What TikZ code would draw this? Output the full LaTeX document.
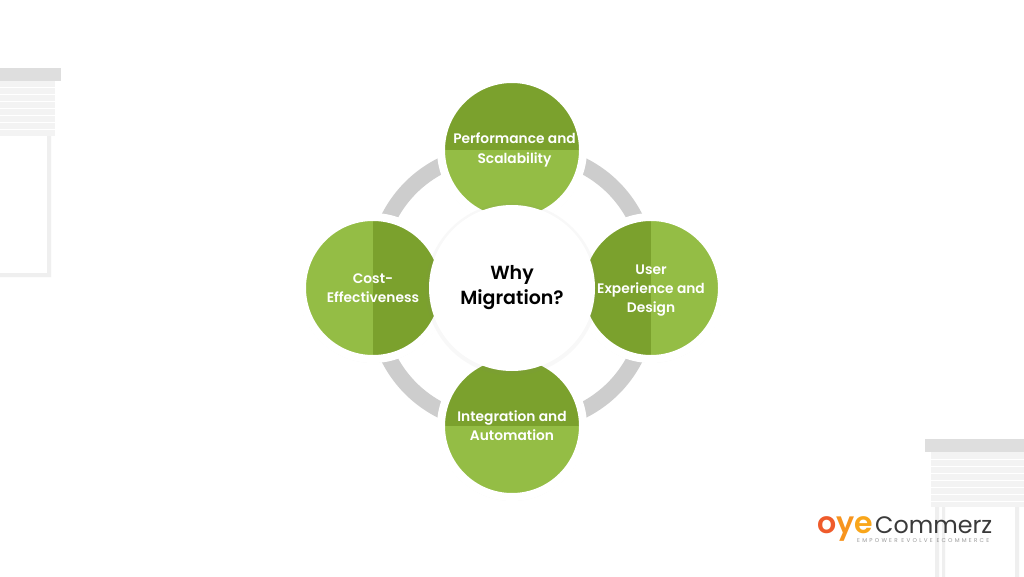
\documentclass[tikz,border=0pt]{standalone}
\usepackage{fontspec}
\setmainfont{Poppins}[BoldFont={Poppins SemiBold}]
\usetikzlibrary{positioning,backgrounds,shadows}
\definecolor{leafdark}{HTML}{7BA12D}
\definecolor{leaflight}{HTML}{94BD45}
\definecolor{ringgrey}{HTML}{CDCDCD}
\definecolor{barcol}{HTML}{DEDEDE}
\definecolor{slatcol}{HTML}{F3F3F3}
\definecolor{framecol}{HTML}{EFEFEF}
\definecolor{logoink}{HTML}{3A3A3A}
\definecolor{logored}{HTML}{EF5B2B}
\definecolor{logoamber}{HTML}{F7941E}
\definecolor{logoyellow}{HTML}{F9A61A}

\begin{document}
\begin{tikzpicture}[
  x=1pt, y=1pt,
  softshadow/.style={drop shadow={opacity=0.05, shadow xshift=0pt, shadow yshift=-1pt, shadow scale=1.04}},
  petal/.style={circle, draw=white, line width=8pt, fill=leaflight, minimum size=142pt,
                inner sep=0pt, align=center, text=white, softshadow,
                font=\fontsize{13.8}{19.2}\selectfont\bfseries},
  darktop/.style={path picture={\fill[leafdark] (path picture bounding box.north west)
                rectangle (path picture bounding box.east);}},
  darkright/.style={path picture={\fill[leafdark] (path picture bounding box.north)
                rectangle (path picture bounding box.south east);}},
  darkleft/.style={path picture={\fill[leafdark] (path picture bounding box.north west)
                rectangle (path picture bounding box.south);}},
  hub/.style={circle, fill=white, minimum size=166pt, inner sep=0pt, align=center,
              text=black, softshadow, font=\fontsize{19}{25}\selectfont\bfseries},
  ringarc/.style={ringgrey, line width=16pt, looseness=1.1},
  logotext/.style={inner sep=0pt, anchor=base west}
]

\useasboundingbox (0,0) rectangle (1024,-577);

% blinds, left and right
\fill[framecol] (47,-135) rectangle (51,-277) (0,-273) rectangle (51,-277);
\fill[slatcol] (0,-81) rectangle (55,-136);
\foreach \sy in {-88,-95,...,-130} \draw[white, line width=1pt] (0,\sy) -- (55,\sy);
\fill[barcol] (0,-68) rectangle (61,-81);
\fill[framecol] (935,-507) rectangle (939,-577) (942,-507) rectangle (945,-577)
  (1015,-507) rectangle (1019,-577);
\fill[slatcol] (931,-452) rectangle (1024,-507);
\foreach \sy in {-459,-466,...,-501} \draw[white, line width=1pt] (931,\sy) -- (1024,\sy);
\fill[barcol] (925,-439) rectangle (1024,-452);

\node[petal, darktop]   (top)    at (512,-150) {\hspace*{5pt}Performance and\\\hspace*{5pt}Scalability};
\node[petal, darkright] (cost)   at (373,-288) {Cost-\\Effectiveness};
\node[petal, darkleft]  (user)   at (651,-288) {\rule{0pt}{15pt}User\\Experience and\\Design};
\node[petal, darktop]   (integ)  at (512,-426) {Integration and\\Automation};
\node[hub] (why) at (512,-288) {Why\\Migration?};

\begin{pgfonlayer}{background}
\fill[white] (0,0) rectangle (1024,-577);
\draw[ringarc] (cost.center)  to[bend left=45] (top.center);
\draw[ringarc] (top.center)   to[bend left=45] (user.center);
\draw[ringarc] (user.center)  to[bend left=45] (integ.center);
\draw[ringarc] (integ.center) to[bend left=45] (cost.center);
\end{pgfonlayer}

% logo
\node[logotext, font=\fontsize{30}{30}\selectfont\bfseries] (oye) at (817,-533)
  {\textcolor{logored}{o}\textcolor{logoamber}{y}\textcolor{logoyellow}{e}};
\node[logotext, text=logoink, font=\fontsize{23.8}{24}\selectfont] (commerz) at (875,-533) {Commerz};
\node[logotext, text=gray!80, font=\fontsize{5.6}{6}\selectfont\addfontfeature{LetterSpace=40}] (tagline) at (857,-542) {EMPOWER EVOLVE ECOMMERCE};
\end{tikzpicture}
\end{document}
